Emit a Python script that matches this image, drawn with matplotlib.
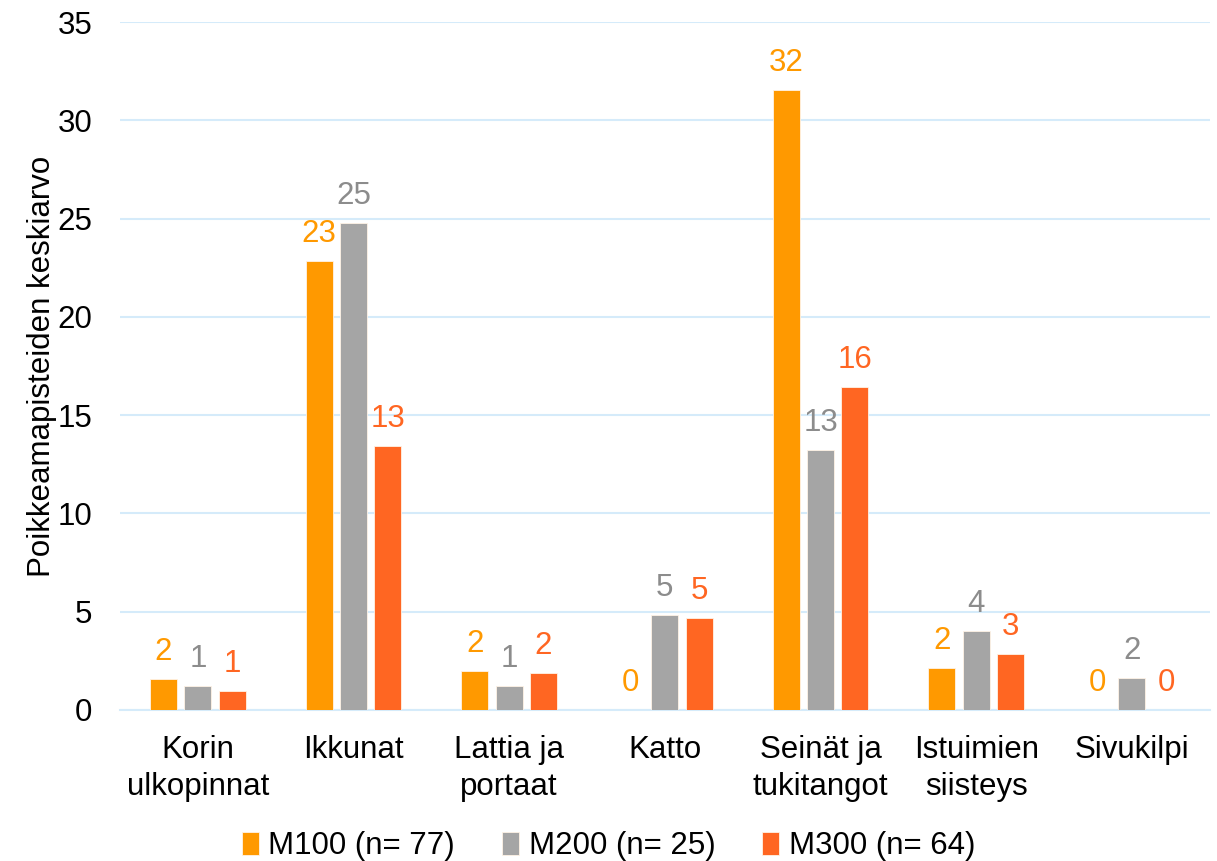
import matplotlib.pyplot as plt
import numpy as np

plt.rcParams["font.family"] = ["Liberation Sans", "DejaVu Sans"]

categories = ["Korin\nulkopinnat", "Ikkunat", "Lattia ja\nportaat", "Katto",
              "Seinät ja\ntukitangot", "Istuimien\nsiisteys", "Sivukilpi"]
series_names = ["M100 (n= 77)", "M200 (n= 25)", "M300 (n= 64)"]
m100 = [1.58, 22.84, 1.98, 0.0, 31.54, 2.14, 0.0]
m200 = [1.22, 24.77, 1.22, 4.83, 13.22, 4.02, 1.63]
m300 = [0.97, 13.43, 1.88, 4.68, 16.43, 2.85, 0.0]

colors = ["#FF9900", "#A5A5A5", "#FF6622"]
label_colors = ["#FF9900", "#8C8C8C", "#FF6622"]
FS = 22.5


def main():
    fig = plt.figure(figsize=(12.17, 8.61), dpi=100)
    ax = fig.add_axes([0.0986, 0.1754, 0.8954, 0.799])

    x = np.arange(len(categories))
    width = 0.173
    step = 0.22
    for i, (vals, name) in enumerate(zip([m100, m200, m300], series_names)):
        pos = x + (i - 1) * step
        ax.bar(pos, vals, width, color=colors[i], edgecolor="#FFF3E6",
               linewidth=0.6, label=name, zorder=3)
        for p, v in zip(pos, vals):
            ax.text(p, v + 0.6, f"{v:.0f}", ha="center", va="bottom",
                    fontsize=FS, color=label_colors[i])

    ax.set_xlim(-0.5, len(categories) - 0.5)
    ax.set_ylim(0, 35)
    ax.set_yticks(range(0, 36, 5))
    ax.yaxis.grid(True, color="#D5EBFA", linewidth=1.5, zorder=0)
    ax.set_axisbelow(True)
    for s in ["top", "right", "left"]:
        ax.spines[s].set_visible(False)
    ax.spines["bottom"].set_color("#D5EBFA")
    ax.spines["bottom"].set_linewidth(1.5)
    ax.tick_params(axis="both", length=0, labelsize=FS, colors="black")
    ax.tick_params(axis="y", pad=20)
    ax.tick_params(axis="x", pad=18)
    ax.set_xticks(x)
    ax.set_xticklabels(categories, linespacing=1.32)
    ax.set_ylabel("Poikkeamapisteiden keskiarvo", fontsize=FS)
    ax.yaxis.set_label_coords(-0.058, 0.5)

    fig.legend(loc="center", bbox_to_anchor=(0.5, 0.017), ncol=3,
               frameon=False, fontsize=FS, handlelength=0.55, handleheight=0.8,
               handletextpad=0.3, columnspacing=1.5)

    fig.savefig("out.png", dpi=100)


if __name__ == "__main__":
    main()
